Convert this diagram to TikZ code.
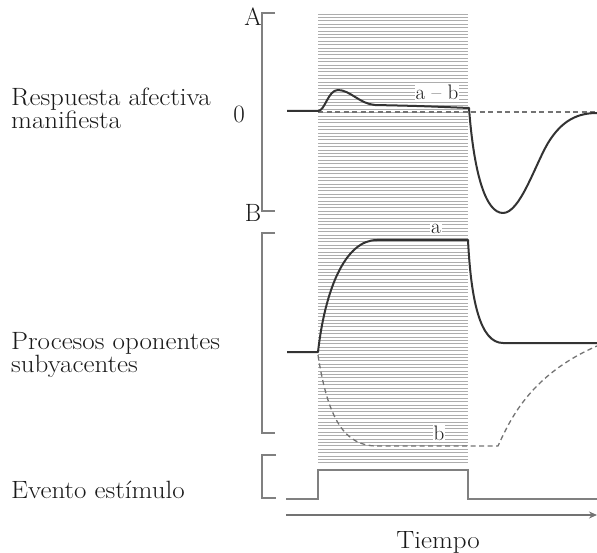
\documentclass[tikz,border=0pt]{standalone}
\usepackage{graphicx}
\usetikzlibrary{arrows.meta}
\newcommand{\wide}[1]{\scalebox{1.08}[1]{#1}}
\begin{document}
\begin{tikzpicture}[x=1pt,y=-1pt,
  hatch/.style={draw=black!32,line width=0.9pt},
  curve/.style={draw=black!80,line width=2pt,line join=round},
  dcurve/.style={draw=black!55,line width=1.3pt,dash pattern=on 5pt off 3.5pt},
  brack/.style={draw=black!50,line width=1.8pt},
  stim/.style={draw=black!50,line width=2pt},
  lab/.style={font=\fontsize{25}{22}\selectfont,inner sep=0pt,anchor=base west,text=black!90},
  lab2/.style={font=\fontsize{25}{22}\selectfont,inner sep=0pt,anchor=north west,align=left,text=black!90},
  axlab/.style={font=\fontsize{25}{29}\selectfont,inner sep=0pt,anchor=base,text=black!90},
  small/.style={font=\fontsize{21}{24}\selectfont,inner sep=0.8pt,fill=white,anchor=base,text=black!90}]
\useasboundingbox (0,0) rectangle (597,553);
% hatched stimulus period
\foreach \i in {0,...,132} \draw[hatch] (318,14+3.4*\i) -- (468,14+3.4*\i);
% brackets
\draw[brack] (275,13) -- (262,13) -- (262,211) -- (275,211);
\draw[brack] (275,233) -- (262,233) -- (262,433) -- (275,433);
\draw[brack] (276,455) -- (262,455) -- (262,498) -- (276,498);
% zero dashed line (top)
\draw[dcurve] (318,112) -- (597,112);
% affective response curve
\draw[curve] (287,111) -- (318,111) .. controls (325,111) and (328,90) .. (338,90)
  .. controls (350,90) and (360,104) .. (375,105) .. controls (420,106) .. (469,108)
  .. controls (474,175) and (486,213) .. (503,213)
  .. controls (520,213) and (535,165) .. (548,143)
  .. controls (562,120) and (578,113) .. (597,113);
% process a
\draw[curve] (287,352) -- (318,352) .. controls (325,290) and (345,240) .. (377,240)
  -- (468,240) .. controls (471,300) and (480,343) .. (503,343) -- (597,343);
% process b
\draw[dcurve] (318,355) .. controls (328,420) and (345,446) .. (377,446) -- (498,446)
  .. controls (510,420) and (530,375) .. (597,346);
% stimulus
\draw[stim] (286,499) -- (318,499) -- (318,470) -- (468,470) -- (468,499) -- (597,499);
% time axis
\coordinate (t0) at (286,515);
\coordinate (t1) at (597,515);
\draw[draw=black!55,line width=1.6pt,-{Stealth[length=8pt,width=7pt]}] (t0) -- (t1);
% labels
\node[lab2] (l1) at (11,87.6) {\wide{Respuesta afectiva}\\\wide{manifiesta}};
\node[lab2] (l3) at (11,331.9) {\wide{Procesos oponentes}\\\wide{subyacentes}};
\node[lab] (l5) at (11,498) {\wide{Evento estímulo}};
\node[axlab] (lt) at (438,548) {\wide{Tiempo}};
\node[axlab] (lA) at (253,26) {A};
\node[axlab] (l0) at (239,123) {0};
\node[axlab] (lB) at (253,222) {B};
\node[small] (lab1) at (437,100) {a -- b};
\node[small] (la) at (436,234) {a};
\node[small] (lb) at (439,440) {b};
\end{tikzpicture}
\end{document}
